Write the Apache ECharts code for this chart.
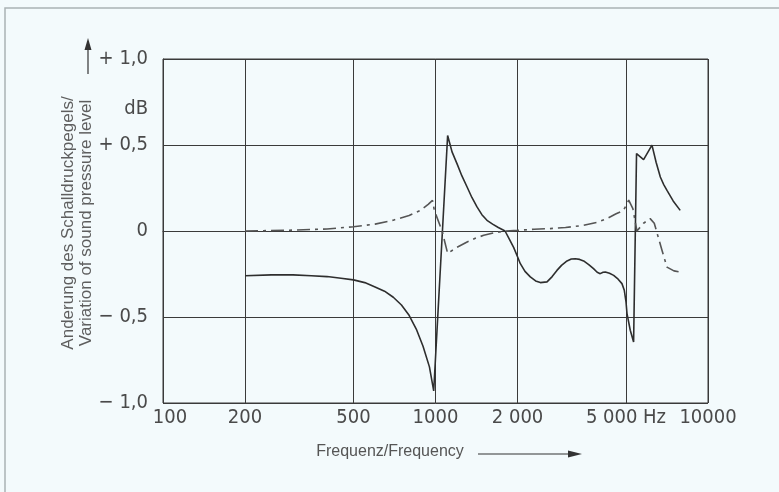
<!DOCTYPE html>
<html>
<head>
<meta charset="utf-8">
<script src="https://cdn.jsdelivr.net/npm/echarts@6/dist/echarts.min.js"></script>
<style>
html, body { margin: 0; padding: 0; background: #f3fafc; }
#chart { width: 779px; height: 492px; }
</style>
</head>
<body>
<div id="chart"></div>
<script>
// Frequenz (Hz) / Pegeländerung (dB)
var freqTicks = [100, 200, 500, 1000, 2000, 5000, 10000];
var freqLabels = ['100', '200', '500', '1000', '2 000', '5 000 Hz', '10000'];
var levelTicks = [-1, -0.5, 0, 0.5, 0.71, 1];
var levelLabels = ['\u2212 1,0', '\u2212 0,5', '0', '+ 0,5', 'dB', '+ 1,0'];

// durchgezogene Kurve
var solidFreq = [200, 250, 300, 350, 400, 450, 500, 550, 600, 650, 700, 750, 800, 850, 900, 950, 985,
	1108, 1150, 1200, 1250, 1306, 1360, 1420, 1480, 1545, 1620, 1700, 1800, 1870, 1935, 2000, 2048, 2130,
	2228, 2330, 2425, 2566, 2680, 2790, 2900, 3039, 3150, 3258, 3380, 3496, 3650, 3801, 3920, 4024, 4120,
	4199, 4350, 4506, 4680, 4833, 4930, 5000, 5044, 5185, 5333, 5467, 5803, 6229, 6450, 6684, 6880, 7071,
	7450, 7907];
var solidLevel = [-0.26, -0.255, -0.255, -0.26, -0.265, -0.275, -0.284, -0.30, -0.325, -0.35, -0.385, -0.43,
	-0.49, -0.57, -0.67, -0.79, -0.93,
	0.555, 0.46, 0.39, 0.32, 0.256, 0.195, 0.14, 0.095, 0.062, 0.04, 0.02, 0.0, -0.05, -0.095, -0.15, -0.19,
	-0.235, -0.267, -0.29, -0.30, -0.296, -0.265, -0.229, -0.20, -0.174, -0.163, -0.161, -0.165, -0.174,
	-0.195, -0.219, -0.24, -0.248, -0.24, -0.238, -0.246, -0.258, -0.28, -0.306, -0.345, -0.41, -0.48,
	-0.577, -0.645, 0.45, 0.415, 0.499, 0.40, 0.314, 0.27, 0.236, 0.175, 0.12];

// strichpunktierte Kurve
var dashFreq = [200, 300, 400, 500, 600, 700, 800, 880, 940, 975, 990, 1057, 1108, 1200, 1306, 1400, 1503,
	1650, 1804, 2000, 2300, 2636, 3000, 3496, 3900, 4257, 4600, 4897, 5117, 5300, 5484, 5800, 6134, 6350,
	6778, 7070, 7500, 7907];
var dashLevel = [0.0, 0.005, 0.012, 0.025, 0.04, 0.063, 0.09, 0.12, 0.155, 0.178, 0.12, 0.0, -0.13, -0.095,
	-0.064, -0.042, -0.025, -0.01, 0.0, 0.004, 0.01, 0.014, 0.02, 0.033, 0.05, 0.072, 0.1, 0.12, 0.179, 0.13,
	0.0, 0.045, 0.072, 0.045, -0.112, -0.21, -0.232, -0.239];

var pairs = function(xs, ys) {
	var out = [];
	for (var i = 0; i < xs.length; i++) {
		out.push([xs[i], ys[i]]);
	}
	return out;
};

var tickFont = "'Liberation Sans Narrow', 'DejaVu Sans Condensed', 'Arial Narrow', sans-serif";
var textFont = "'Liberation Sans', Arial, sans-serif";

var myChart = echarts.init(document.getElementById('chart'));
var option = {
	backgroundColor: '#f3fafc',
	animation: false,
	grid: {
		left: 163,
		right: 71,
		top: 59,
		bottom: 89,
		show: true,
		borderColor: '#3a3a3a',
		borderWidth: 1
	},
	xAxis: {
		type: 'log',
		logBase: 10,
		min: 100,
		max: 10000,
		axisLine: { show: true, lineStyle: { color: '#3a3a3a', width: 1 } },
		axisTick: { show: false, customValues: freqTicks },
		splitLine: { show: true, lineStyle: { color: '#3a3a3a', width: 1 } },
		minorSplitLine: { show: false },
		axisLabel: {
			customValues: freqTicks,
			margin: 5,
			color: '#4a4a4a',
			fontFamily: tickFont,
			fontSize: 20,
			formatter: function(v) {
				var i = freqTicks.indexOf(v);
				if (v === 100) return '{a|100}';
				return i >= 0 ? freqLabels[i] : '';
			},
			rich: {
				a: { padding: [0, 0, 0, 14], fontFamily: tickFont, fontSize: 20, color: '#4a4a4a' }
			}
		}
	},
	yAxis: {
		type: 'value',
		min: -1,
		max: 1,
		interval: 0.5,
		axisLine: { show: true, lineStyle: { color: '#3a3a3a', width: 1 } },
		axisTick: { show: false },
		splitLine: { show: true, lineStyle: { color: '#3a3a3a', width: 1 } },
		axisLabel: {
			customValues: levelTicks,
			margin: 15,
			color: '#4a4a4a',
			fontFamily: tickFont,
			fontSize: 20,
			formatter: function(v) {
				for (var i = 0; i < levelTicks.length; i++) {
					if (Math.abs(levelTicks[i] - v) < 1e-6) return levelLabels[i];
				}
				return '';
			}
		},
		name: 'Anderung des Schalldruckpegels/\nVariation of sound pressure level',
		nameLocation: 'middle',
		nameRotate: 90,
		nameGap: 68,
		nameMoveOverlap: false,
		nameTextStyle: {
			color: '#5e5e5e',
			fontFamily: textFont,
			fontSize: 17,
			lineHeight: 18,
			align: 'center',
			padding: [0, 0, 0, 16]
		}
	},
	graphic: [
		{ type: 'rect', shape: { x: 5, y: 8, width: 800, height: 500 }, style: { fill: null, stroke: '#aab3b4', lineWidth: 1.5 }, silent: true },
		{ type: 'line', shape: { x1: 88, y1: 74, x2: 88, y2: 48 }, style: { stroke: '#333', lineWidth: 1.2 } },
		{ type: 'polygon', shape: { points: [[88, 38], [84.5, 50], [91.5, 50]] }, style: { fill: '#333' } },
		{ type: 'text', x: 390, y: 452, style: { text: 'Frequenz/Frequency', fontFamily: textFont, fontSize: 16, fill: '#555', align: 'center', verticalAlign: 'middle' } },
		{ type: 'line', shape: { x1: 478, y1: 454, x2: 570, y2: 454 }, style: { stroke: '#333', lineWidth: 1.2 } },
		{ type: 'polygon', shape: { points: [[582, 454], [568, 450.5], [568, 457.5]] }, style: { fill: '#333' } }
	],
	series: [
		{
			name: 'solid',
			type: 'line',
			data: pairs(solidFreq, solidLevel),
			showSymbol: false,
			smooth: false,
			lineStyle: { color: '#2e2e2e', width: 1.6 }
		},
		{
			name: 'dashdot',
			type: 'line',
			data: pairs(dashFreq, dashLevel),
			showSymbol: false,
			smooth: false,
			lineStyle: { color: '#555', width: 1.6, type: [13, 5, 3, 5] }
		}
	]
};
myChart.setOption(option);
</script>
</body>
</html>
